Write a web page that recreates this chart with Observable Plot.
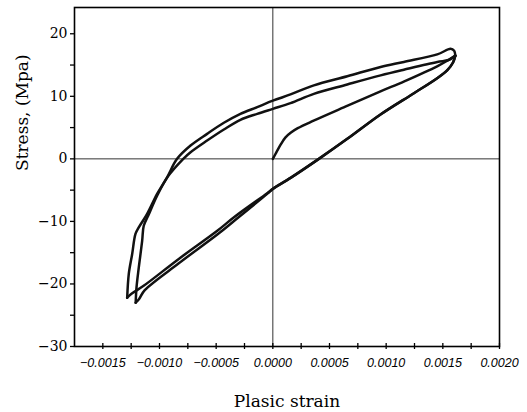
<!DOCTYPE html>
<html><head><meta charset="utf-8">
<script src="https://cdn.jsdelivr.net/npm/d3@7"></script>
<script src="https://cdn.jsdelivr.net/npm/@observablehq/plot@0.6"></script>
<style>body{margin:0;background:#fff}</style>
</head><body><div id="chart"></div>
<script>
// Tick values and labels
const xTicks = [-0.0015,-0.00125,-0.001,-0.00075,-0.0005,-0.00025,0,0.00025,0.0005,0.00075,0.001,0.00125,0.0015,0.00175,0.002];
const xTickLabels = ["−0.0015","−0.0010","−0.0005","0.0000","0.0005","0.0010","0.0015","0.0020"];
const xLabelTicks = [-0.0015,-0.001,-0.0005,0,0.0005,0.001,0.0015,0.002];
const yTicks = [-30,-25,-20,-15,-10,-5,0,5,10,15,20];
const yLabelTicks = [-30,-20,-10,0,10,20];
const xTitle = "Plasic strain";
const yTitle = "Stress, (Mpa)";

// Branches of the hysteresis loop (plastic strain, stress in MPa)
const initialStrain = [0,0.00003,0.00007,0.00011,0.00016,0.00022,0.00036,0.00066,0.00095,0.00116,0.00145,0.00155,0.00161];
const initialStress = [0,1.0,2.3,3.4,4.2,4.9,6.1,8.5,10.8,12.4,14.8,15.8,16.5];

const upperUnloadStrain = [0.00161,0.00159,0.00154,0.00145,0.001245,0.00095,0.000657,0.000406,0.00016,0];
const upperUnloadStress = [16.5,15.4,14.2,12.9,10.5,7.1,3.2,0,-3.0,-4.8];

const lowerUnloadAStrain = [0,-0.00005,-0.00034,-0.00049,-0.00083,-0.00114,-0.00125,-0.001285];
const lowerUnloadAStress = [-4.8,-5.5,-9.3,-11.5,-16.0,-20.3,-21.6,-22.2];
const lowerUnloadBStrain = [0,-0.00005,-0.00034,-0.00049,-0.00083,-0.00113,-0.00118,-0.00121];
const lowerUnloadBStress = [-4.8,-5.6,-9.9,-12.1,-16.7,-21.0,-22.4,-23.0];

const reloadAStrain = [-0.001285,-0.001271,-0.001241,-0.001212,-0.001183,-0.001109,-0.001021,-0.000933,-0.000845,-0.000726,-0.00058,-0.000432,-0.000286,-0.000138,0,0.000156,0.000362,0.000657,0.000951,0.001156,0.001451,0.001568,0.0016,0.00161];
const reloadAStress = [-22.2,-18.4,-15.2,-12.0,-10.96,-8.8,-5.6,-2.95,0,2.13,4.0,5.77,7.2,8.27,9.3,10.3,11.75,13.2,14.7,15.5,16.7,17.6,17.3,16.5];
const reloadBStrain = [-0.00121,-0.001203,-0.001183,-0.001153,-0.001139,-0.0011,-0.00102,-0.000925,-0.00079,-0.000726,-0.00058,-0.000432,-0.000286,-0.000138,0,0.000156,0.000362,0.000657,0.000951,0.001156,0.001451,0.00155,0.00161];
const reloadBStress = [-23.0,-20.6,-17.4,-13.1,-10.7,-9.1,-5.85,-2.8,0,1.06,2.93,4.7,6.25,7.2,8.0,8.9,10.4,11.9,13.35,14.26,15.5,15.8,16.5];

function rows(name, xs, ys) { return xs.map((x, i) => ({branch: name, strain: x, stress: ys[i]})); }
const data = [
  ...rows("initial", initialStrain, initialStress),
  ...rows("unloadA", upperUnloadStrain.concat(lowerUnloadAStrain.slice(1)), upperUnloadStress.concat(lowerUnloadAStress.slice(1))),
  ...rows("unloadB", upperUnloadStrain.concat(lowerUnloadBStrain.slice(1)), upperUnloadStress.concat(lowerUnloadBStress.slice(1))),
  ...rows("reloadA", reloadAStrain, reloadAStress),
  ...rows("reloadB", reloadBStrain, reloadBStress)
];

const xLabelFor = d => {
  const i = xLabelTicks.findIndex(v => Math.abs(v - d) < 1e-9);
  return i >= 0 ? xTickLabels[i] : "";
};
const yLabelFor = d => yLabelTicks.includes(d) ? d3.format("")(d) : "";

const W = 527, H = 412, mt = 7, mb = 66;
const chart = Plot.plot({
  width: W, height: H,
  marginLeft: 74, marginRight: 28, marginTop: mt, marginBottom: mb,
  style: {background: "#fff", color: "#000"},
  x: {domain: [-0.00175, 0.002]},
  y: {domain: [-30, 24.2]},
  marks: [
    Plot.ruleX([0], {stroke: "#333", strokeWidth: 1}),
    Plot.ruleY([0], {stroke: "#333", strokeWidth: 1}),
    Plot.line(data, {x: "strain", y: "stress", z: "branch", stroke: "#111", strokeWidth: 2.5, curve: "catmull-rom"}),
    Plot.frame({stroke: "#000", strokeWidth: 1.6}),
    Plot.ruleX(xTicks, {x: d => d, insetTop: H - mt - mb - 3, insetBottom: -3, stroke: "#000", strokeWidth: 1.3}),
    Plot.axisX(xTicks, {tickSize: 0, tickPadding: 12, tickFormat: xLabelFor, fontStyle: "italic", fontFamily: "Liberation Sans", fontSize: 12.5, label: null}),
    Plot.axisY(yTicks, {tickSize: 4, tickPadding: 3, tickFormat: yLabelFor, fontFamily: "DejaVu Serif", fontSize: 14, strokeWidth: 1.3, label: null}),
    Plot.text([xTitle], {text: d => d, frameAnchor: "bottom", dy: 55, lineAnchor: "middle", fontFamily: "DejaVu Serif", fontSize: 17}),
    Plot.text([yTitle], {text: d => d, frameAnchor: "left", dx: -52, dy: -6, rotate: -90, fontFamily: "DejaVu Serif", fontSize: 17})
  ]
});
document.getElementById("chart").appendChild(chart);
</script>
</body></html>
